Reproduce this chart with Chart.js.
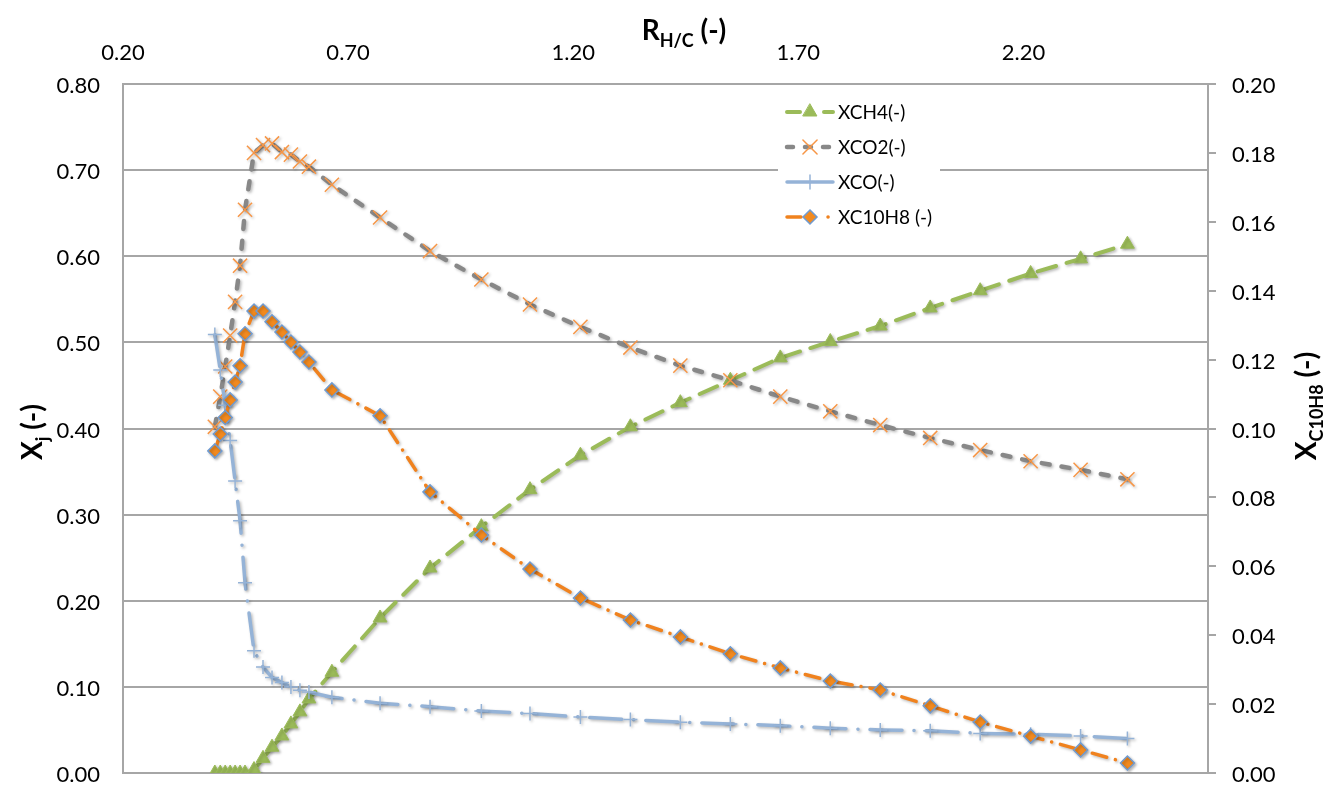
<!DOCTYPE html>
<html>
<head>
<meta charset="utf-8">
<script src="https://cdn.jsdelivr.net/npm/chart.js"></script>
<style>
  html, body { margin: 0; padding: 0; background: #fff; }
  #wrap { width: 1328px; height: 785px; }
</style>
</head>
<body>
<div id="wrap"><canvas id="chart" width="1328" height="785"></canvas></div>
<script>
// R_H/C (top axis)
const rhc = [0.404, 0.416, 0.427, 0.438, 0.449, 0.460, 0.471, 0.491, 0.511, 0.531, 0.553, 0.573, 0.593, 0.613, 0.664,
             0.771, 0.882, 0.996, 1.104, 1.216, 1.327, 1.438, 1.549, 1.660, 1.771, 1.882, 1.993, 2.104, 2.216, 2.327, 2.431];

// left axis series
const xch4 = [0, 0, 0, 0, 0, 0, 0, 0.004, 0.017, 0.030, 0.043, 0.057, 0.071, 0.086, 0.117,
              0.180, 0.238, 0.286, 0.329, 0.369, 0.402, 0.430, 0.456, 0.482, 0.501, 0.519, 0.540, 0.560, 0.580, 0.597, 0.614];
const xco2 = [0.402, 0.437, 0.472, 0.508, 0.547, 0.589, 0.654, 0.720, 0.729, 0.731, 0.721, 0.718, 0.710, 0.704, 0.683,
              0.645, 0.606, 0.573, 0.544, 0.518, 0.494, 0.473, 0.456, 0.437, 0.420, 0.404, 0.389, 0.375, 0.362, 0.352, 0.341];
const xco = [0.509, 0.468, 0.427, 0.386, 0.339, 0.293, 0.221, 0.142, 0.123, 0.111, 0.105, 0.100, 0.096, 0.094, 0.088,
             0.081, 0.077, 0.072, 0.069, 0.065, 0.062, 0.059, 0.057, 0.055, 0.052, 0.050, 0.049, 0.046, 0.045, 0.043, 0.040];

// right axis series
const xc10h8 = [0.0935, 0.0984, 0.1032, 0.1083, 0.1135, 0.1182, 0.1275, 0.1341, 0.1341, 0.1310, 0.1280, 0.1251, 0.1222, 0.1193, 0.1112,
                0.1037, 0.0816, 0.0691, 0.0592, 0.0508, 0.0444, 0.0395, 0.0346, 0.0305, 0.0267, 0.0241, 0.0195, 0.0148, 0.0107, 0.0067, 0.0029];

const xTicks = [0.20, 0.70, 1.20, 1.70, 2.20];
const seriesLabels = ['XCH4(-)', 'XCO2(-)', 'XCO(-)', 'XC10H8 (-)'];

const fontFamily = 'Lato, Carlito, "Open Sans", sans-serif';
const axisGray = '#a6a6a6';

Chart.defaults.font.family = fontFamily;
Chart.defaults.color = '#000';

const pts = arr => arr.map((v, i) => ({ x: rhc[i], y: v }));

// soft shadow like the office chart markers
const shadowPlugin = {
  id: 'shadow',
  beforeDatasetDraw(chart) {
    const c = chart.ctx;
    c.save();
    c.shadowColor = 'rgba(0,0,0,0.28)';
    c.shadowBlur = 3;
    c.shadowOffsetX = 1.5;
    c.shadowOffsetY = 1.5;
  },
  afterDatasetDraw(chart) { chart.ctx.restore(); }
};

function drawRich(ctx, parts, cx, cy, rot) {
  ctx.save();
  ctx.translate(cx, cy);
  ctx.rotate(rot);
  ctx.fillStyle = '#000';
  ctx.textBaseline = 'alphabetic';
  ctx.textAlign = 'left';
  let w = 0;
  parts.forEach(p => {
    ctx.font = 'bold ' + p.s + 'px ' + fontFamily;
    p.w = ctx.measureText(p.t).width;
    w += p.w;
  });
  let x = -w / 2;
  parts.forEach(p => {
    ctx.font = 'bold ' + p.s + 'px ' + fontFamily;
    ctx.fillText(p.t, x, p.dy || 0);
    x += p.w;
  });
  ctx.restore();
}

const titlePlugin = {
  id: 'axisTitles',
  afterDraw(chart) {
    const ctx = chart.ctx;
    drawRich(ctx, [{ t: 'R', s: 28 }, { t: 'H/C', s: 18, dy: 7 }, { t: ' (-)', s: 28 }], 684, 40, 0);
    drawRich(ctx, [{ t: 'X', s: 28 }, { t: 'j', s: 18, dy: 7 }, { t: ' (-)', s: 28 }], 42, 432, -Math.PI / 2);
    drawRich(ctx, [{ t: 'X', s: 28 }, { t: 'C10H8', s: 18, dy: 7 }, { t: ' (-)', s: 28 }], 1316, 406, -Math.PI / 2);
  }
};

function drawMarker(ctx, ds, x, y) {
  const r = ds.pointRadius;
  ctx.save();
  ctx.setLineDash([]);
  ctx.lineWidth = ds.pointBorderWidth;
  ctx.strokeStyle = ds.pointBorderColor;
  ctx.fillStyle = ds.pointBackgroundColor;
  ctx.beginPath();
  if (ds.pointStyle === 'triangle') {
    ctx.moveTo(x, y - r);
    ctx.lineTo(x + r * 0.866, y + r * 0.5);
    ctx.lineTo(x - r * 0.866, y + r * 0.5);
    ctx.closePath();
    ctx.fill(); ctx.stroke();
  } else if (ds.pointStyle === 'rectRot') {
    ctx.moveTo(x, y - r); ctx.lineTo(x + r, y); ctx.lineTo(x, y + r); ctx.lineTo(x - r, y);
    ctx.closePath();
    ctx.fill(); ctx.stroke();
  } else if (ds.pointStyle === 'crossRot') {
    const d = r * 0.707;
    ctx.moveTo(x - d, y - d); ctx.lineTo(x + d, y + d);
    ctx.moveTo(x + d, y - d); ctx.lineTo(x - d, y + d);
    ctx.stroke();
  } else {
    ctx.moveTo(x - r, y); ctx.lineTo(x + r, y);
    ctx.moveTo(x, y - r); ctx.lineTo(x, y + r);
    ctx.stroke();
  }
  ctx.restore();
}

const legendPlugin = {
  id: 'boxLegend',
  afterDraw(chart) {
    const ctx = chart.ctx;
    ctx.save();
    ctx.fillStyle = '#fff';
    ctx.fillRect(778, 93, 162, 142);
    chart.data.datasets.forEach((ds, i) => {
      const y = 112 + i * 35;
      ctx.strokeStyle = ds.borderColor;
      ctx.lineWidth = ds.borderWidth;
      ctx.lineCap = 'round';
      ctx.setLineDash(ds.legendDash);
      ctx.beginPath();
      ctx.moveTo(787, y);
      ctx.lineTo(833, y);
      ctx.stroke();
      drawMarker(ctx, ds, 810, y);
      ctx.setLineDash([]);
      ctx.fillStyle = '#000';
      ctx.font = '19px ' + fontFamily;
      ctx.textBaseline = 'middle';
      ctx.textAlign = 'left';
      ctx.fillText(ds.label, 838, y + 1);
    });
    ctx.restore();
  }
};

const noEdgePadding = s => { s.paddingTop = 0; s.paddingBottom = 0; };

new Chart(document.getElementById('chart'), {
  type: 'line',
  data: {
    datasets: [
      {
        label: seriesLabels[0], data: pts(xch4), yAxisID: 'y', order: 3,
        borderColor: '#9bbb59', borderWidth: 4, borderDash: [19, 11], legendDash: [13, 24],
        borderCapStyle: 'round',
        pointStyle: 'triangle', pointRadius: 8, pointBackgroundColor: '#9bbb59',
        pointBorderColor: '#9bbb59', pointBorderWidth: 1
      },
      {
        label: seriesLabels[1], data: pts(xco2), yAxisID: 'y', order: 2,
        borderColor: '#888888', borderWidth: 4.5, borderDash: [8, 12], legendDash: [6, 12],
        borderCapStyle: 'round',
        pointStyle: 'crossRot', pointRadius: 10, pointBackgroundColor: '#f79646',
        pointBorderColor: '#f79646', pointBorderWidth: 1.5
      },
      {
        label: seriesLabels[2], data: pts(xco), yAxisID: 'y', order: 1,
        borderColor: '#95b3d7', borderWidth: 3.5, borderDash: [32, 12, 0.1, 12], legendDash: [],
        borderCapStyle: 'round',
        pointStyle: 'cross', pointRadius: 7, pointBackgroundColor: '#95b3d7',
        pointBorderColor: '#95b3d7', pointBorderWidth: 1.5
      },
      {
        label: seriesLabels[3], data: pts(xc10h8), yAxisID: 'y2', order: 0,
        borderColor: '#f0821e', borderWidth: 3.5, borderDash: [15, 9, 0.1, 9], legendDash: [14, 27, 0.1, 20],
        borderCapStyle: 'round',
        pointStyle: 'rectRot', pointRadius: 7, pointBackgroundColor: '#f28a1f',
        pointBorderColor: '#6f9bd1', pointBorderWidth: 1.5
      }
    ]
  },
  options: {
    responsive: false,
    animation: false,
    devicePixelRatio: 1,
    layout: { padding: { top: 0, left: 0, right: 0, bottom: 12 } },
    plugins: { legend: { display: false }, tooltip: { enabled: false } },
    elements: { line: { tension: 0, fill: false } },
    scales: {
      x: {
        type: 'linear', position: 'top', min: 0.2, max: 2.61,
        afterBuildTicks: s => { s.ticks = xTicks.map(v => ({ value: v })); },
        afterFit: s => { s.height = 84; s.paddingLeft = 0; s.paddingRight = 0; },
        grid: { display: false, drawTicks: false },
        border: { display: true, color: axisGray, width: 2 },
        ticks: { padding: 18, font: { size: 22 }, maxRotation: 0, autoSkip: false,
                 callback: v => Number(v).toFixed(2) }
      },
      y: {
        position: 'left', min: 0, max: 0.8,
        afterFit: s => { s.width = 123; noEdgePadding(s); },
        grid: { color: axisGray, lineWidth: 2, drawTicks: false },
        border: { display: true, color: axisGray, width: 2 },
        ticks: { stepSize: 0.1, padding: 23, font: { size: 22 }, labelOffset: 2,
                 callback: v => Number(v).toFixed(2) }
      },
      y2: {
        position: 'right', min: 0, max: 0.2,
        afterFit: s => { s.width = 120; noEdgePadding(s); },
        grid: { drawOnChartArea: false, drawTicks: true, tickLength: 8, color: axisGray, lineWidth: 2 },
        border: { display: true, color: axisGray, width: 2 },
        ticks: { stepSize: 0.02, padding: 16, font: { size: 22 }, labelOffset: 2,
                 callback: v => Number(v).toFixed(2) }
      }
    }
  },
  plugins: [shadowPlugin, titlePlugin, legendPlugin]
});
</script>
</body>
</html>
